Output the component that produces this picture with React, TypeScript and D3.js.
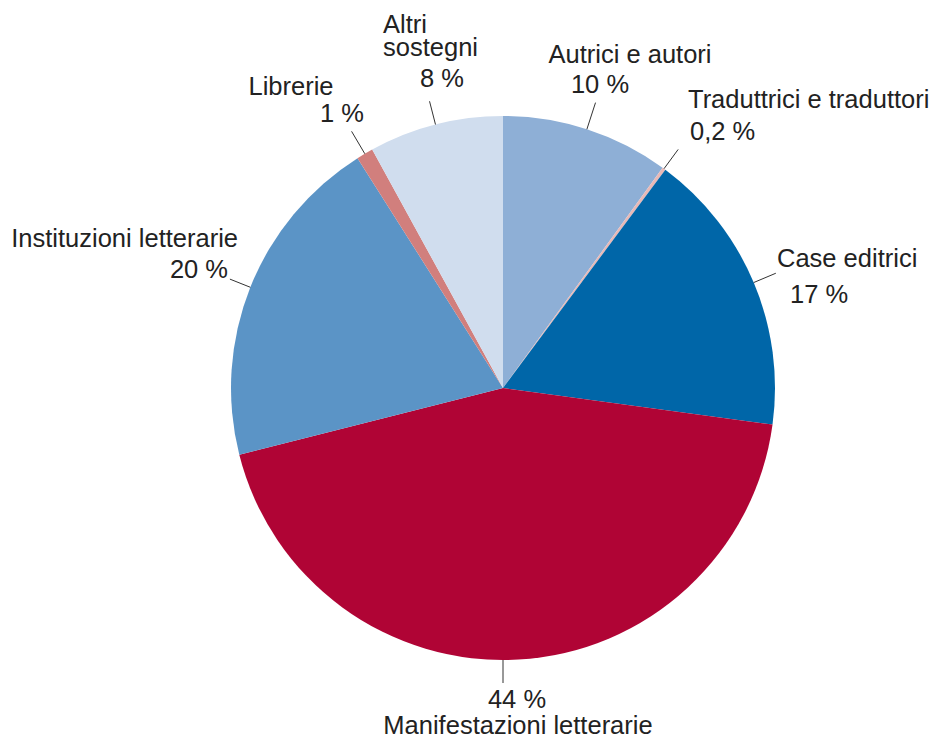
import React from "react";
import * as d3 from "d3";

const categories = [
  "Autrici e autori",
  "Traduttrici e traduttori",
  "Case editrici",
  "Manifestazioni letterarie",
  "Instituzioni letterarie",
  "Librerie",
  "Altri sostegni",
];
const values = [10, 0.2, 17, 44, 20, 1, 8];
const valueLabels = ["10 %", "0,2 %", "17 %", "44 %", "20 %", "1 %", "8 %"];
const colors = ["#8eafd6", "#e8b9b7", "#0066a8", "#b00435", "#5b94c6", "#d17f7d", "#d0ddee"];

type Line = { t: string; x: number; y: number; a: "start" | "middle" | "end" };
const labelLayout: { lines: (name: string, val: string) => Line[]; len: number; angle?: number }[] = [
  { lines: (n, v) => [{ t: n, x: 630, y: 63, a: "middle" }, { t: v, x: 600, y: 93, a: "middle" }], len: 28 },
  { lines: (n, v) => [{ t: n, x: 688, y: 108, a: "start" }, { t: v, x: 690, y: 140, a: "start" }], len: 24 },
  { lines: (n, v) => [{ t: n, x: 777, y: 267, a: "start" }, { t: v, x: 790, y: 303, a: "start" }], len: 24 },
  { lines: (n, v) => [{ t: v, x: 517, y: 708, a: "middle" }, { t: n, x: 518, y: 734, a: "middle" }], len: 23, angle: Math.PI },
  { lines: (n, v) => [{ t: n, x: 238, y: 247, a: "end" }, { t: v, x: 228, y: 278, a: "end" }], len: 22 },
  { lines: (n, v) => [{ t: n, x: 291, y: 95, a: "middle" }, { t: v, x: 342, y: 122, a: "middle" }], len: 26 },
  { lines: (n, v) => [{ t: "Altri", x: 383, y: 33, a: "start" }, { t: "sostegni", x: 383, y: 56, a: "start" }, { t: v, x: 442, y: 87, a: "middle" }], len: 24 },
];

export default function App() {
  const width = 935;
  const height = 738;
  const cx = 503;
  const cy = 388;
  const r = 272;

  const pie = d3.pie<number>().sort(null).value((d) => d);
  const arcs = pie(values);
  const arcGen = d3.arc<d3.PieArcDatum<number>>().innerRadius(0).outerRadius(r);

  return (
    <svg
      width={width}
      height={height}
      style={{ position: "absolute", left: 0, top: 0, background: "#fff" }}
      fontFamily="'Liberation Sans', Arial, sans-serif"
    >
      <g transform={`translate(${cx},${cy})`}>
        {arcs.map((a, i) => (
          <path key={i} d={arcGen(a) || ""} fill={colors[i]} />
        ))}
        {arcs.map((a, i) => {
          const ang = labelLayout[i].angle ?? (a.startAngle + a.endAngle) / 2;
          const r2 = r + labelLayout[i].len;
          return (
            <line
              key={"l" + i}
              x1={r * Math.sin(ang)}
              y1={-r * Math.cos(ang)}
              x2={r2 * Math.sin(ang)}
              y2={-r2 * Math.cos(ang)}
              stroke="#333"
              strokeWidth={1}
            />
          );
        })}
      </g>
      {categories.map((c, i) =>
        labelLayout[i].lines(c, valueLabels[i]).map((ln, j) => (
          <text key={i + "-" + j} x={ln.x} y={ln.y} textAnchor={ln.a} fontSize={25.5} fill="#222">
            {ln.t}
          </text>
        ))
      )}
    </svg>
  );
}
